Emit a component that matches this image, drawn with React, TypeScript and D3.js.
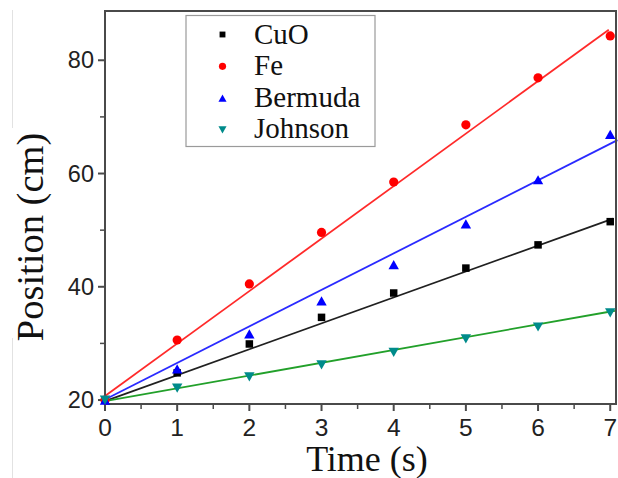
import React from "react";
import * as d3 from "d3";

// Sample times (s)
const times = [0, 1, 2, 3, 4, 5, 6, 7];

// Measured positions (cm) for each material
const cuoPos = [20, 24.8, 29.9, 34.6, 38.9, 43.3, 47.4, 51.5];
const fePos = [20, 30.6, 40.5, 49.6, 58.5, 68.6, 76.9, 84.3];
const bermudaPos = [20, 25.5, 31.7, 37.5, 43.9, 51.1, 58.9, 66.9];
const johnsonPos = [20, 22.1, 24.1, 26.2, 28.4, 30.8, 32.9, 35.4];

// Linear fit parameters: position = intercept + slope * time
const seriesNames = ["CuO", "Fe", "Bermuda", "Johnson"];
const fitIntercepts = [19.8, 20.7, 20.1, 19.8];
const fitSlopes = [4.58, 9.27, 6.45, 2.26];
const fitEnd = [7.04, 6.98, 7.1, 7.065];

const xTicks = [0, 1, 2, 3, 4, 5, 6, 7];
const yTicks = [20, 40, 60, 80];

const W = 618;
const H = 478;
const plot = { left: 105, right: 616, top: 11, bottom: 404 };

const markerColors = ["#000000", "#ff0000", "#0000ff", "#008b8b"];
const lineColors = ["#202020", "#ff2a2a", "#2a2aff", "#22a02a"];
const shapes = ["square", "circle", "triangle", "down"];

function Marker({ shape, x, y, color, s = 1 }: { shape: string; x: number; y: number; color: string; s?: number }) {
  if (shape === "square") {
    const a = 7.5 * s;
    return <rect x={x - a / 2} y={y - a / 2} width={a} height={a} fill={color} />;
  }
  if (shape === "circle") {
    return <circle cx={x} cy={y} r={4.6 * s} fill={color} />;
  }
  const w = 5.2 * s;
  const h = 4.6 * s;
  if (shape === "triangle") {
    return <path d={`M${x},${y - h} L${x + w},${y + h} L${x - w},${y + h} Z`} fill={color} />;
  }
  return <path d={`M${x},${y + h} L${x + w},${y - h} L${x - w},${y - h} Z`} fill={color} />;
}

export default function App() {
  const x = d3.scaleLinear().domain([0, 7.08]).range([plot.left, plot.right]);
  const y = d3.scaleLinear().domain([19.3, 88.7]).range([plot.bottom, plot.top]);

  const allSeries = [cuoPos, fePos, bermudaPos, johnsonPos];
  const line = d3
    .line<[number, number]>()
    .x((d) => x(d[0]))
    .y((d) => y(d[1]));

  const xMinor = d3.range(0.5, 7.01, 1);
  const yMinor = d3.range(30, 81, 20);

  const axisColor = "#4a4a4a";
  const tickFont = "Liberation Sans, Arial, sans-serif";
  const serif = "Liberation Serif, Times New Roman, serif";

  return (
    <svg width={W} height={H} style={{ position: "absolute", left: 0, top: 0, background: "#fff" }}>
      {/* faint guide line at the far left */}
      <line x1={12.5} x2={12.5} y1={10} y2={128} stroke="#e2e2e2" strokeWidth={1} />
      <line x1={12.5} x2={12.5} y1={338} y2={478} stroke="#e2e2e2" strokeWidth={1} />

      {/* fit lines */}
      {allSeries.map((_, i) => (
        <path
          key={"fit" + i}
          d={line([
            [0, fitIntercepts[i]],
            [fitEnd[i], fitIntercepts[i] + fitSlopes[i] * fitEnd[i]],
          ]) as string}
          stroke={lineColors[i]}
          strokeWidth={1.8}
          fill="none"
        />
      ))}

      {/* frame */}
      <rect
        x={plot.left}
        y={plot.top}
        width={plot.right - plot.left}
        height={plot.bottom - plot.top}
        fill="none"
        stroke={axisColor}
        strokeWidth={2}
      />

      {/* x ticks */}
      {xTicks.map((t) => (
        <g key={"xt" + t}>
          <line x1={x(t)} x2={x(t)} y1={plot.bottom} y2={plot.bottom + 7} stroke={axisColor} strokeWidth={2} />
          <text x={x(t)} y={436} textAnchor="middle" fontFamily={tickFont} fontSize={24.5} fill="#222">
            {t}
          </text>
        </g>
      ))}
      {xMinor.map((t) => (
        <line key={"xm" + t} x1={x(t)} x2={x(t)} y1={plot.bottom} y2={plot.bottom + 5} stroke={axisColor} strokeWidth={1.5} />
      ))}

      {/* y ticks */}
      {yTicks.map((t) => (
        <g key={"yt" + t}>
          <line x1={plot.left - 7} x2={plot.left} y1={y(t)} y2={y(t)} stroke={axisColor} strokeWidth={2} />
          <text x={94} y={y(t) + 8} textAnchor="end" fontFamily={tickFont} fontSize={23.5} fill="#222">
            {t}
          </text>
        </g>
      ))}
      {yMinor.map((t) => (
        <line key={"ym" + t} x1={plot.left - 5} x2={plot.left} y1={y(t)} y2={y(t)} stroke={axisColor} strokeWidth={1.5} />
      ))}

      {/* data markers */}
      {allSeries.map((vals, i) =>
        vals.map((v, j) => (
          <Marker key={`m${i}-${j}`} shape={shapes[i]} x={x(times[j])} y={y(v)} color={markerColors[i]} />
        ))
      )}

      {/* axis titles */}
      <text x={367} y={470.5} textAnchor="middle" fontFamily={serif} fontSize={36} fill="#111">
        Time (s)
      </text>
      <text
        transform={`translate(43,237) rotate(-90)`}
        textAnchor="middle"
        fontFamily={serif}
        fontSize={38.5}
        fill="#111"
      >
        Position (cm)
      </text>

      {/* legend */}
      <rect x={186} y={15.5} width={189} height={131} fill="#fff" stroke="#9a9a9a" strokeWidth={1.2} />
      {seriesNames.map((name, i) => (
        <g key={"lg" + name}>
          <Marker shape={shapes[i]} x={222.5} y={34.5 + i * 31.8} color={markerColors[i]} s={0.78} />
          <text x={254} y={44.3 + i * 31.1} fontFamily={serif} fontSize={29} fill="#111">
            {name}
          </text>
        </g>
      ))}
    </svg>
  );
}
